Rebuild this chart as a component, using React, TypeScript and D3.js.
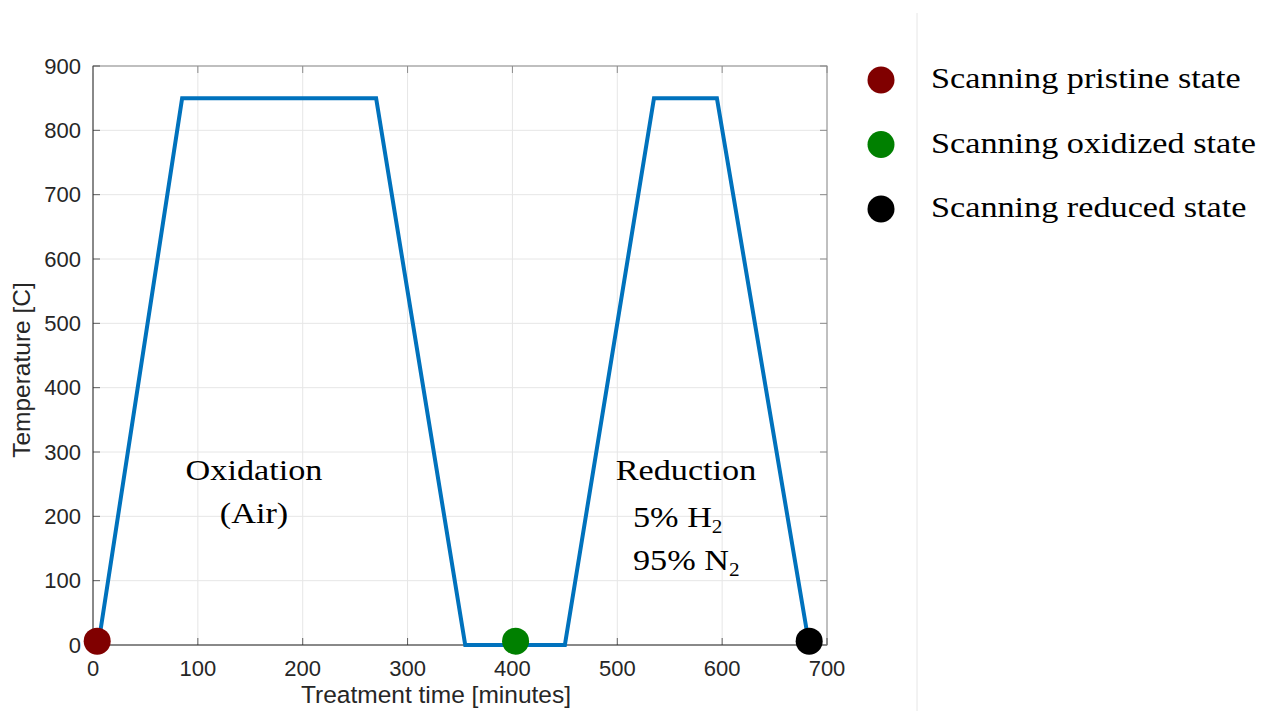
import React from "react";
import * as d3 from "d3";

const timeMinutes = [5, 85, 270, 355, 450, 535, 595, 683];
const temperatureC = [0, 850, 850, 0, 0, 850, 850, 0];

const markerLabels = ["Scanning pristine state", "Scanning oxidized state", "Scanning reduced state"];
const markerTimes = [4, 403, 683];
const markerTemps = [6, 6, 6];
const markerColors = ["#800000", "#008000", "#000000"];

const xTicks = [0, 100, 200, 300, 400, 500, 600, 700];
const yTicks = [0, 100, 200, 300, 400, 500, 600, 700, 800, 900];

const serif = "'Liberation Serif', 'Times New Roman', serif";
const SX = 1.18;

function SText({ x, y, anchor = "start", children }: { x: number; y: number; anchor?: string; children: React.ReactNode }) {
  return (
    <text transform={`translate(${x},${y}) scale(${SX},1)`} textAnchor={anchor} fontFamily={serif} fontSize={29} fill="#000">
      {children}
    </text>
  );
}

export default function App() {
  const W = 1262, H = 711;
  const left = 93, right = 827, top = 66, bottom = 645;
  const x = d3.scaleLinear().domain([0, 700]).range([left, right]);
  const y = d3.scaleLinear().domain([0, 900]).range([bottom, top]);
  const line = d3.line<number>().x((_, i) => x(timeMinutes[i])).y((d) => y(d));
  const axisColor = "#262626";
  const tickFont = "'Liberation Sans', Arial, sans-serif";
  const tl = 7;
  return (
    <svg width={W} height={H} style={{ position: "absolute", left: 0, top: 0, background: "#fff" }}>
      <rect width={W} height={H} fill="#fff" />
      {xTicks.map((t) => (
        <line key={"gx" + t} x1={x(t)} x2={x(t)} y1={top} y2={bottom} stroke="#e6e6e6" strokeWidth={1} />
      ))}
      {yTicks.map((t) => (
        <line key={"gy" + t} x1={left} x2={right} y1={y(t)} y2={y(t)} stroke="#e6e6e6" strokeWidth={1} />
      ))}
      <rect x={left} y={top} width={right - left} height={bottom - top} fill="none" stroke="#8c8c8c" strokeWidth={1} />
      <line x1={left} x2={left} y1={top} y2={bottom} stroke={axisColor} strokeWidth={1} opacity={0.7} />
      <line x1={left} x2={right} y1={bottom} y2={bottom} stroke={axisColor} strokeWidth={1} opacity={0.7} />
      {xTicks.map((t) => (
        <g key={"tx" + t}>
          <line x1={x(t)} x2={x(t)} y1={bottom} y2={bottom - tl} stroke={axisColor} opacity={0.7} />
          <line x1={x(t)} x2={x(t)} y1={top} y2={top + tl} stroke="#8c8c8c" />
          <text x={x(t)} y={676} textAnchor="middle" fontFamily={tickFont} fontSize={22} fill={axisColor}>{t}</text>
        </g>
      ))}
      {yTicks.map((t) => (
        <g key={"ty" + t}>
          <line x1={left} x2={left + tl} y1={y(t)} y2={y(t)} stroke={axisColor} opacity={0.7} />
          <line x1={right} x2={right - tl} y1={y(t)} y2={y(t)} stroke="#8c8c8c" />
          <text x={81} y={y(t)} dy="0.35em" textAnchor="end" fontFamily={tickFont} fontSize={22} fill={axisColor}>{t}</text>
        </g>
      ))}
      <text x={436} y={703} textAnchor="middle" fontFamily={tickFont} fontSize={24.5} fill={axisColor}>Treatment time [minutes]</text>
      <text transform={`translate(30,370) rotate(-90)`} textAnchor="middle" fontFamily={tickFont} fontSize={24.5} fill={axisColor}>Temperature [C]</text>
      <path d={line(temperatureC) || ""} fill="none" stroke="#0072BD" strokeWidth={4} strokeLinejoin="miter" />
      {markerTimes.map((t, i) => (
        <circle key={"m" + i} cx={x(t)} cy={y(markerTemps[i])} r={13.5} fill={markerColors[i]} />
      ))}
      <SText x={254} y={480} anchor="middle">Oxidation</SText>
      <SText x={254} y={523} anchor="middle">(Air)</SText>
      <SText x={686} y={480} anchor="middle">Reduction</SText>
      <SText x={633} y={527}>5% H<tspan fontSize={18} dy={6}>2</tspan></SText>
      <SText x={633} y={570}>95% N<tspan fontSize={18} dy={6}>2</tspan></SText>
      <line x1={917} x2={917} y1={13} y2={H} stroke="#e6e6e6" strokeWidth={1} />
      {markerLabels.map((lab, i) => (
        <g key={"l" + i}>
          <circle cx={881} cy={80 + i * 64.5} r={13.5} fill={markerColors[i]} />
          <SText x={931} y={88 + i * 64.5}>{lab}</SText>
        </g>
      ))}
    </svg>
  );
}
